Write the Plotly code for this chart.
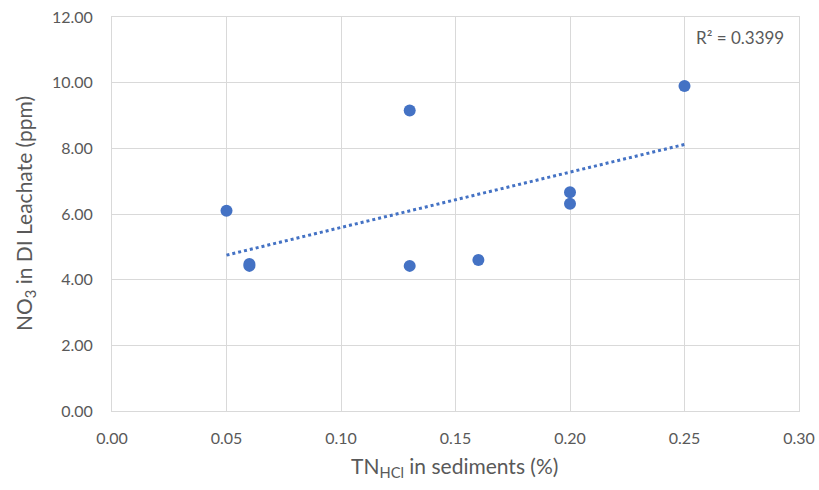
import numpy as np
import plotly.graph_objects as go

tn_hcl = [0.05, 0.06, 0.06, 0.13, 0.13, 0.16, 0.20, 0.20, 0.25]
no3 = [6.10, 4.42, 4.48, 9.15, 4.42, 4.60, 6.66, 6.31, 9.90]
x_ticks = [0.00, 0.05, 0.10, 0.15, 0.20, 0.25, 0.30]
y_ticks = [0, 2, 4, 6, 8, 10, 12]
r2_label = "R² = 0.3399"

slope, intercept = np.polyfit(tn_hcl, no3, 1)
trend_x = [min(tn_hcl), max(tn_hcl)]
trend_y = [slope * v + intercept for v in trend_x]

blue = "#4472C4"
grey = "#595959"
grid = "#D9D9D9"
font = "Lato, Open Sans, sans-serif"

W, H = 819, 490
L, R, T, B = 112, 19.5, 17, 79
pw, ph = W - L - R, H - T - B


def px(xp):
    return (xp - L) / pw


def py(yp):
    return 1 - (yp - T) / ph


fig = go.Figure()
fig.add_trace(go.Scatter(x=trend_x, y=trend_y, mode="lines",
                         line=dict(color=blue, width=3, dash="dot"),
                         showlegend=False, hoverinfo="skip"))
fig.add_trace(go.Scatter(x=tn_hcl, y=no3, mode="markers",
                         marker=dict(color=blue, size=12),
                         showlegend=False))

fig.update_layout(
    width=W, height=H,
    margin=dict(l=L, r=R, t=T, b=B, autoexpand=False),
    paper_bgcolor="white", plot_bgcolor="white",
    font=dict(family=font, color=grey, size=16),
    xaxis=dict(range=[0, 0.30], tickvals=x_ticks,
               ticktext=[f"{v:.2f}" for v in x_ticks],
               showgrid=True, gridcolor=grid, gridwidth=1,
               showline=True, linecolor=grid, linewidth=1, mirror=True,
               zeroline=False, ticks="", ticklen=0, automargin=False,
               ticklabelstandoff=13),
    yaxis=dict(range=[0, 12], tickvals=y_ticks,
               ticktext=[f"{v:.2f}" for v in y_ticks],
               showgrid=True, gridcolor=grid, gridwidth=1,
               showline=True, linecolor=grid, linewidth=1, mirror=True,
               zeroline=False, ticks="", ticklen=0, automargin=False,
               ticklabelstandoff=15),
    annotations=[
        dict(text=r2_label, x=px(786), y=py(37), xref="paper", yref="paper",
             xanchor="right", yanchor="middle", showarrow=False,
             font=dict(size=17, color=grey, family=font)),
        dict(text="TN<sub>HCl</sub> in sediments (%)",
             x=px(455), y=py(467), xref="paper", yref="paper",
             xanchor="center", yanchor="middle", showarrow=False,
             font=dict(size=21, color=grey, family=font)),
        dict(text="NO<sub>3</sub> in DI Leachate (ppm)", textangle=-90,
             x=px(25), y=py(214), xref="paper", yref="paper",
             xanchor="center", yanchor="middle", showarrow=False,
             font=dict(size=21, color=grey, family=font)),
    ],
)

fig.write_html("out.html", config={"displayModeBar": False},
               post_script="document.body.style.margin='0';")
